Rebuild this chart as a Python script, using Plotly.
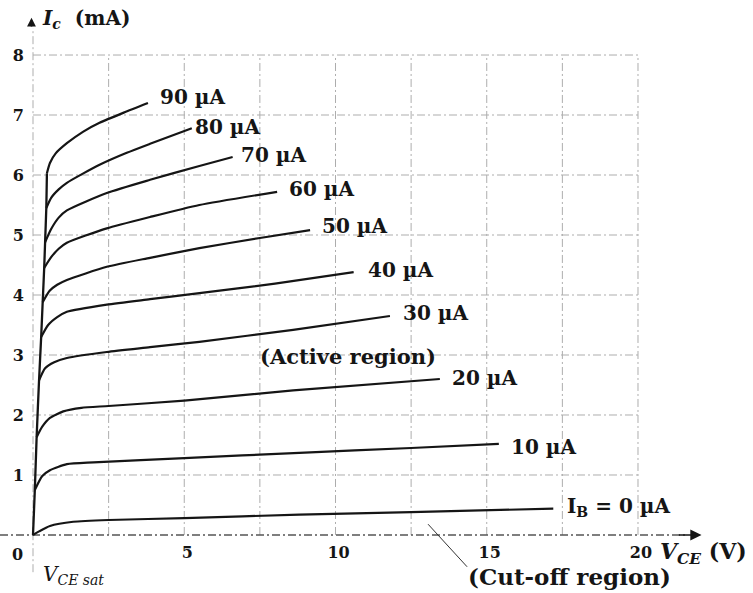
import plotly.graph_objects as go

# ---------------- data ----------------
ib_labels = ["90 µA", "80 µA", "70 µA", "60 µA", "50 µA", "40 µA",
             "30 µA", "20 µA", "10 µA", "I<sub>B</sub> = 0 µA"]

# shared near-vertical saturation edge
sat_v = [0, 0.06, 0.12, 0.20, 0.27, 0.32, 0.37, 0.40, 0.44, 0.46]
sat_i = [0, 0.75, 1.63, 2.58, 3.30, 3.88, 4.45, 4.88, 5.45, 6.03]

v90 = [0.46, 0.56, 0.75, 1.12, 1.65, 2.2, 3.0, 3.8]
i90 = [6.03, 6.20, 6.36, 6.53, 6.72, 6.87, 7.04, 7.20]
v80 = [0.44, 0.6, 0.85, 1.12, 2.2, 3.1, 3.87, 5.25]
i80 = [5.45, 5.62, 5.76, 5.87, 6.17, 6.37, 6.52, 6.78]
v70 = [0.40, 0.6, 0.85, 1.12, 2.44, 3.87, 5.5, 6.6]
i70 = [4.88, 5.10, 5.29, 5.41, 5.70, 5.92, 6.15, 6.30]
v60 = [0.37, 0.6, 0.85, 1.12, 2.44, 3.87, 5.5, 8.07]
i60 = [4.45, 4.63, 4.77, 4.87, 5.11, 5.30, 5.50, 5.72]
v50 = [0.32, 0.55, 0.8, 1.12, 2.44, 3.87, 5.5, 7.5, 9.16]
i50 = [3.88, 4.07, 4.17, 4.25, 4.47, 4.62, 4.78, 4.95, 5.08]
v40 = [0.27, 0.5, 0.8, 1.12, 2.44, 3.87, 5.5, 8.0, 10.6]
i40 = [3.30, 3.50, 3.63, 3.72, 3.84, 3.93, 4.03, 4.19, 4.38]
v30 = [0.20, 0.4, 0.7, 1.12, 2.44, 3.87, 5.5, 8.6, 11.8]
i30 = [2.58, 2.78, 2.88, 2.95, 3.05, 3.13, 3.22, 3.42, 3.65]
v20 = [0.12, 0.3, 0.56, 1.0, 1.6, 2.5, 5.0, 8.6, 13.45]
i20 = [1.63, 1.80, 1.95, 2.06, 2.12, 2.15, 2.24, 2.41, 2.60]
v10 = [0.06, 0.3, 0.56, 1.12, 2.0, 5.0, 8.8, 12.5, 15.4]
i10 = [0.75, 0.98, 1.08, 1.18, 1.21, 1.28, 1.37, 1.45, 1.52]
v00 = [0, 0.2, 0.56, 1.33, 2.5, 5.0, 8.8, 12.5, 17.2]
i00 = [0, 0.06, 0.15, 0.22, 0.25, 0.28, 0.34, 0.38, 0.44]

curves_v = [v90, v80, v70, v60, v50, v40, v30, v20, v10, v00]
curves_i = [i90, i80, i70, i60, i50, i40, i30, i20, i10, i00]

x_ticks = [5, 10, 15, 20]
y_ticks = [1, 2, 3, 4, 5, 6, 7, 8]
x_grid = [2.5, 5, 7.5, 10, 12.5, 15, 17.5, 20]
y_grid = [1, 2, 3, 4, 5, 6, 7, 8]

# ---------------- layout geometry ----------------
W, H = 753, 593
XMIN, XMAX = -1.091, 23.802
YMIN, YMAX = -0.967, 8.917

SERIF = "DejaVu Serif"
INK = "#151515"
GRID = "#adadad"
DASH = "8px,3px,2px,3px"

fig = go.Figure()

fig.add_trace(go.Scatter(x=sat_v, y=sat_i, mode="lines",
                         line=dict(color=INK, width=2.3, shape="spline", smoothing=0.5),
                         hoverinfo="skip", showlegend=False))
for vv, ii in zip(curves_v, curves_i):
    fig.add_trace(go.Scatter(x=vv, y=ii, mode="lines",
                             line=dict(color=INK, width=2.2, shape="spline", smoothing=0.6),
                             hoverinfo="skip", showlegend=False))

shapes = []
for gx in x_grid:
    shapes.append(dict(type="line", x0=gx, x1=gx, y0=0, y1=8,
                       line=dict(color=GRID, width=1, dash=DASH), layer="below"))
shapes.append(dict(type="line", x0=0, x1=0, y0=-0.62, y1=8.45,
                   line=dict(color=GRID, width=1, dash=DASH), layer="below"))
for gy in y_grid:
    shapes.append(dict(type="line", x0=0, x1=20, y0=gy, y1=gy,
                       line=dict(color=GRID, width=1, dash=DASH), layer="below"))
shapes.append(dict(type="line", x0=XMIN, x1=21.6, y0=0, y1=0,
                   line=dict(color="#555555", width=1.4, dash=DASH), layer="below"))
shapes.append(dict(type="line", x0=13.06, x1=14.35, y0=0.18, y1=-0.53,
                   line=dict(color="#333333", width=1)))

annotations = []
annotations.append(dict(x=22.1, y=0, ax=21.3, ay=0, xref="x", yref="y",
                        axref="x", ayref="y", showarrow=True, arrowhead=2,
                        arrowsize=1.4, arrowwidth=1.6, arrowcolor=INK, text=""))
annotations.append(dict(x=-0.05, y=8.62, ax=-0.05, ay=8.45, xref="x", yref="y",
                        axref="x", ayref="y", showarrow=True, arrowhead=2,
                        arrowsize=1.1, arrowwidth=1.6, arrowcolor=INK, text=""))

label_pos = [(4.12, 7.30), (5.3, 6.80), (6.8, 6.33), (8.4, 5.76), (9.5, 5.15),
             (11.0, 4.42), (12.15, 3.70), (13.8, 2.62), (15.75, 1.47), (17.6, 0.47)]
for txt, (lx, ly) in zip(ib_labels, label_pos):
    annotations.append(dict(x=lx, y=ly, xref="x", yref="y", text=txt,
                            showarrow=False, xanchor="left", yanchor="middle",
                            font=dict(family=SERIF, size=20, color=INK, weight="bold")))

annotations += [
    dict(x=10.4, y=2.98, xref="x", yref="y", text="(Active region)", showarrow=False,
         xanchor="center", yanchor="middle",
         font=dict(family=SERIF, size=21, color=INK, weight="bold")),
    dict(x=17.75, y=-0.70, xref="x", yref="y", text="(Cut-off region)", showarrow=False,
         xanchor="center", yanchor="middle",
         font=dict(family=SERIF, size=23, color=INK, weight="bold")),
    dict(x=20.66, y=-0.30, xref="x", yref="y",
         text="<i>V</i><sub><i>CE</i></sub> (V)", showarrow=False,
         xanchor="left", yanchor="middle",
         font=dict(family=SERIF, size=22, color=INK, weight="bold")),
    dict(x=0.25, y=-0.66, xref="x", yref="y",
         text="<i>V</i><sub><i>CE sat</i></sub>", showarrow=False,
         xanchor="left", yanchor="middle",
         font=dict(family=SERIF, size=20, color=INK)),
    dict(x=0.23, y=8.6, xref="x", yref="y",
         text="<i>I</i><sub><i>c</i></sub>  (mA)", showarrow=False,
         xanchor="left", yanchor="middle",
         font=dict(family=SERIF, size=20, color=INK, weight="bold")),
    dict(x=-0.5, y=-0.33, xref="x", yref="y", text="0", showarrow=False,
         xanchor="center", yanchor="middle",
         font=dict(family=SERIF, size=16, color=INK, weight="bold")),
]

fig.update_layout(
    width=W, height=H,
    margin=dict(l=0, r=0, t=0, b=0, pad=0),
    paper_bgcolor="white", plot_bgcolor="white",
    shapes=shapes, annotations=annotations, showlegend=False,
    xaxis=dict(range=[XMIN, XMAX], tickvals=x_ticks, showgrid=False, zeroline=False,
               showline=False, ticks="", anchor="free",
               position=(0 - YMIN) / (YMAX - YMIN), ticklabelstandoff=6,
               ticklabelshift=3, automargin=False,
               tickfont=dict(family=SERIF, size=16, color=INK, weight="bold")),
    yaxis=dict(range=[YMIN, YMAX], tickvals=y_ticks, showgrid=False, zeroline=False,
               showline=False, ticks="", anchor="free",
               position=(0 - XMIN) / (XMAX - XMIN), ticklabelstandoff=9,
               automargin=False,
               tickfont=dict(family=SERIF, size=16, color=INK, weight="bold")),
)

fig.write_html("out.html", config={"displayModeBar": False, "staticPlot": True},
               post_script="document.body.style.margin='0px';document.body.style.overflow='hidden';")
